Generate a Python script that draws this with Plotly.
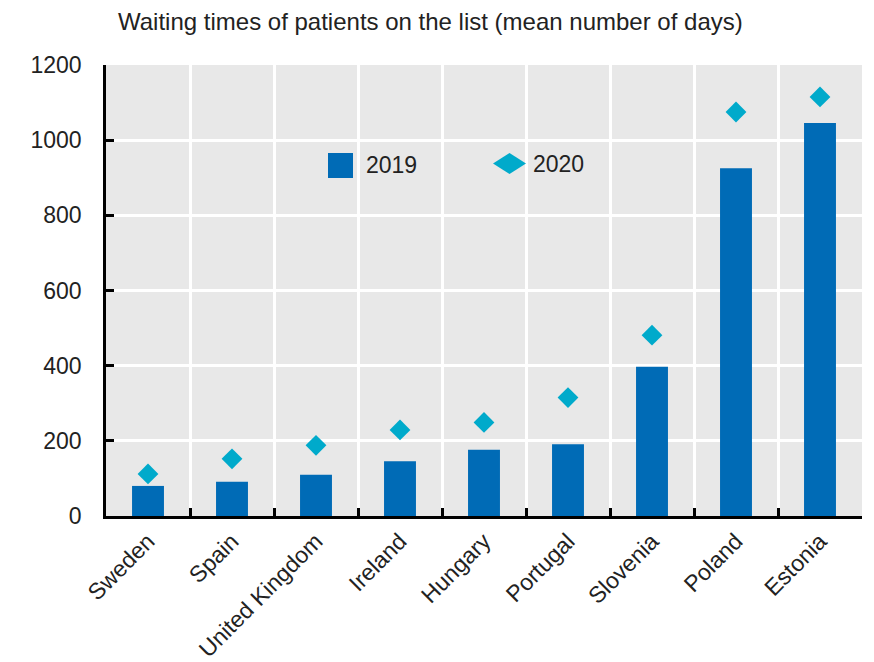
import plotly.graph_objects as go

countries = ["Sweden", "Spain", "United Kingdom", "Ireland", "Hungary",
             "Portugal", "Slovenia", "Poland", "Estonia"]
values_2019 = [80, 91, 110, 146, 176, 191, 397, 925, 1046]
values_2020 = [112, 152, 188, 229, 249, 315, 481, 1075, 1115]
y_ticks = [0, 200, 400, 600, 800, 1000, 1200]
series_names = ["2019", "2020"]

FONT = "Liberation Sans, Arial, sans-serif"
TXT = "#222222"
C2019 = "#006bb6"
C2020 = "#00aacb"
FS = 23

# the page body adds an 8px offset; figure is sized to compensate
W, H = 866, 654
L, T, R, B = 98, 57, 12, 146
PW, PH = W - L - R, H - T - B


def px(x):  # screen x -> plot-domain paper x
    return (x - 8 - L) / PW


def py(y):  # screen y -> plot-domain paper y
    return (H - B - (y - 8)) / PH


fig = go.Figure()
fig.add_trace(go.Bar(
    x=countries, y=values_2019, name=series_names[0],
    marker=dict(color=C2019, line=dict(width=0)),
    width=0.38, showlegend=False,
))
fig.add_trace(go.Scatter(
    x=countries, y=values_2020, name=series_names[1], mode="markers",
    marker=dict(symbol="diamond", size=16, color=C2020, line=dict(width=0)),
    showlegend=False,
))

# legend drawn as decoration inside the plot area
shapes = [
    dict(type="rect", xref="paper", yref="paper",
         x0=px(328), x1=px(353), y0=py(178), y1=py(153),
         fillcolor=C2019, line=dict(width=0)),
    dict(type="path", xref="paper", yref="paper",
         path=f"M {px(493)},{py(163.5)} L {px(509.5)},{py(153)} "
              f"L {px(526)},{py(163.5)} L {px(509.5)},{py(174)} Z",
         fillcolor=C2020, line=dict(width=0)),
]
annotations = [
    dict(text=series_names[0], xref="paper", yref="paper", x=px(364), y=py(165.5),
         xanchor="left", yanchor="middle", showarrow=False,
         font=dict(family=FONT, size=FS, color=TXT)),
    dict(text=series_names[1], xref="paper", yref="paper", x=px(531), y=py(163.5),
         xanchor="left", yanchor="middle", showarrow=False,
         font=dict(family=FONT, size=FS, color=TXT)),
]

fig.update_layout(
    width=W, height=H,
    paper_bgcolor="white", plot_bgcolor="#e8e8e8",
    margin=dict(l=L, r=R, t=T, b=B, autoexpand=False),
    font=dict(family=FONT, size=FS, color=TXT),
    title=dict(text="Waiting times of patients on the list (mean number of days)",
               x=(118 - 8) / W, xanchor="left", y=1 - (22 - 8) / H, yanchor="middle",
               font=dict(family=FONT, size=24, color=TXT)),
    showlegend=False,
    shapes=shapes, annotations=annotations,
    bargap=0.62,
)
fig.update_xaxes(
    type="category", tickson="boundaries", showgrid=True, gridcolor="white", gridwidth=3,
    showline=True, linecolor="black", linewidth=2.5,
    ticks="inside", ticklen=8, tickcolor="black", tickwidth=2.5,
    tickangle=-45, tickfont=dict(family=FONT, size=FS, color=TXT),
    range=[-0.5, 8.5], automargin=False,
)
fig.update_yaxes(
    range=[0, 1200], tickvals=y_ticks, ticktext=[str(v) for v in y_ticks],
    showgrid=True, gridcolor="white", gridwidth=3, zeroline=False,
    showline=True, linecolor="black", linewidth=2.5,
    ticks="inside", ticklen=8, tickcolor="black", tickwidth=2.5,
    tickfont=dict(family=FONT, size=FS, color=TXT),
    ticklabelstandoff=17, automargin=False,
)
fig.write_html("out.html")
